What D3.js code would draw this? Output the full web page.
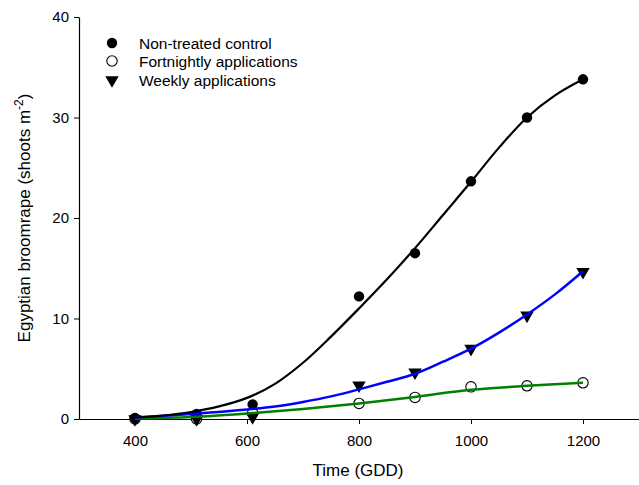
<!DOCTYPE html>
<html>
<head>
<meta charset="utf-8">
<script src="https://cdn.jsdelivr.net/npm/d3@7"></script>
<style>
  html, body { margin: 0; padding: 0; background: #fff; }
  text { font-family: "Liberation Sans", Arial, sans-serif; fill: #000; }
</style>
</head>
<body>
<svg id="chart" width="639" height="485"></svg>
<script>
// Observed data
const gdd = [400, 510, 610, 800, 900, 1000, 1100, 1200];
const control = [0.1, 0.5, 1.45, 12.2, 16.5, 23.65, 30.0, 33.8];
const fortnightly = [0.0, 0.0, 0.6, 1.55, 2.15, 3.2, 3.3, 3.6];
const weekly = [0.0, 0.0, 0.2, 3.35, 4.65, 7.0, 10.3, 14.65];

// Fitted curves
const fitControlX = [400, 450, 500, 550, 600, 650, 700, 750, 800, 850, 900, 950, 1000, 1050, 1100, 1150, 1200];
const fitControlY = [0.15, 0.35, 0.7, 1.25, 2.1, 3.5, 5.6, 8.2, 11.0, 13.9, 17.0, 20.3, 23.6, 27.0, 30.0, 32.2, 33.8];
const fitWeeklyX = [400, 500, 600, 650, 700, 750, 800, 850, 900, 950, 1000, 1050, 1100, 1150, 1200];
const fitWeeklyY = [0.15, 0.5, 0.95, 1.25, 1.7, 2.25, 2.95, 3.7, 4.5, 5.7, 7.0, 8.6, 10.4, 12.4, 14.7];
const fitFortX = [400, 500, 600, 700, 800, 900, 1000, 1100, 1200];
const fitFortY = [0.05, 0.2, 0.55, 1.0, 1.55, 2.2, 2.9, 3.3, 3.6];

const xTicks = [400, 600, 800, 1000, 1200];
const yTicks = [0, 10, 20, 30, 40];
const legendLabels = ["Non-treated control", "Fortnightly applications", "Weekly applications"];

const svg = d3.select("#chart");
const x = d3.scaleLinear().domain([300, 1300]).range([79, 639]);
const y = d3.scaleLinear().domain([0, 40]).range([419, 17]);

// Axes
const xAxis = d3.axisBottom(x).tickValues(xTicks).tickFormat(d3.format("d"))
  .tickSize(5).tickPadding(11).tickSizeOuter(0);
const yAxis = d3.axisLeft(y).tickValues(yTicks).tickFormat(d3.format("d"))
  .tickSize(5).tickPadding(5).tickSizeOuter(0);

const gx = svg.append("g").attr("transform", "translate(0,419)").call(xAxis);
const gy = svg.append("g").attr("transform", "translate(79,0)").call(yAxis);
[gx, gy].forEach(g => {
  g.selectAll("path.domain").attr("stroke", "#000").attr("stroke-width", 1.2);
  g.selectAll(".tick line").attr("stroke", "#000").attr("stroke-width", 1);
  g.selectAll(".tick text").attr("font-size", 15).attr("font-family", "Liberation Sans, Arial, sans-serif").attr("fill", "#000");
});

// Axis titles
svg.append("text").attr("x", 358).attr("y", 476).attr("text-anchor", "middle")
  .attr("font-size", 17).text("Time (GDD)");
const yt = svg.append("text").attr("transform", "translate(30,218) rotate(-90)")
  .attr("text-anchor", "middle").attr("font-size", 17);
yt.append("tspan").text("Egyptian broomrape (shoots m");
yt.append("tspan").attr("dy", -7).attr("font-size", 12).text("-2");
yt.append("tspan").attr("dy", 7).text(")");

// Markers
const r = 5.2;
const tri = d3.symbol().type(d3.symbolTriangle).size(78);
function drawTri(sel, cx, cy) {
  sel.append("path").attr("d", tri())
    .attr("transform", `translate(${cx},${cy}) rotate(180)`)
    .attr("fill", "#000");
}
const mk = svg.append("g");
gdd.forEach((g, i) => {
  mk.append("circle").attr("cx", x(g)).attr("cy", y(fortnightly[i])).attr("r", r)
    .attr("fill", "#fff").attr("stroke", "#000").attr("stroke-width", 1.1);
});
gdd.forEach((g, i) => { drawTri(mk, x(g), y(weekly[i])); });
gdd.forEach((g, i) => {
  mk.append("circle").attr("cx", x(g)).attr("cy", y(control[i])).attr("r", r).attr("fill", "#000");
});

// Fitted lines
const line = d3.line().x(d => x(d[0])).y(d => y(d[1])).curve(d3.curveCatmullRom.alpha(0.5));
function drawFit(xs, ys, color, w) {
  svg.append("path").datum(xs.map((v, i) => [v, ys[i]]))
    .attr("d", line).attr("fill", "none").attr("stroke", color).attr("stroke-width", w);
}
drawFit(fitFortX, fitFortY, "#008000", 2.5);
drawFit(fitWeeklyX, fitWeeklyY, "#0000ff", 2.5);
drawFit(fitControlX, fitControlY, "#000000", 2.2);

// Legend
const lg = svg.append("g");
const ly = [43, 61, 80];
lg.append("circle").attr("cx", 112).attr("cy", ly[0]).attr("r", r).attr("fill", "#000");
lg.append("circle").attr("cx", 112).attr("cy", ly[1]).attr("r", r).attr("fill", "#fff").attr("stroke", "#000").attr("stroke-width", 1.1);
drawTri(lg, 112, ly[2]);
legendLabels.forEach((t, i) => {
  lg.append("text").attr("x", 139).attr("y", ly[i] + 5.5).attr("font-size", 15.5).text(t);
});
</script>
</body>
</html>
